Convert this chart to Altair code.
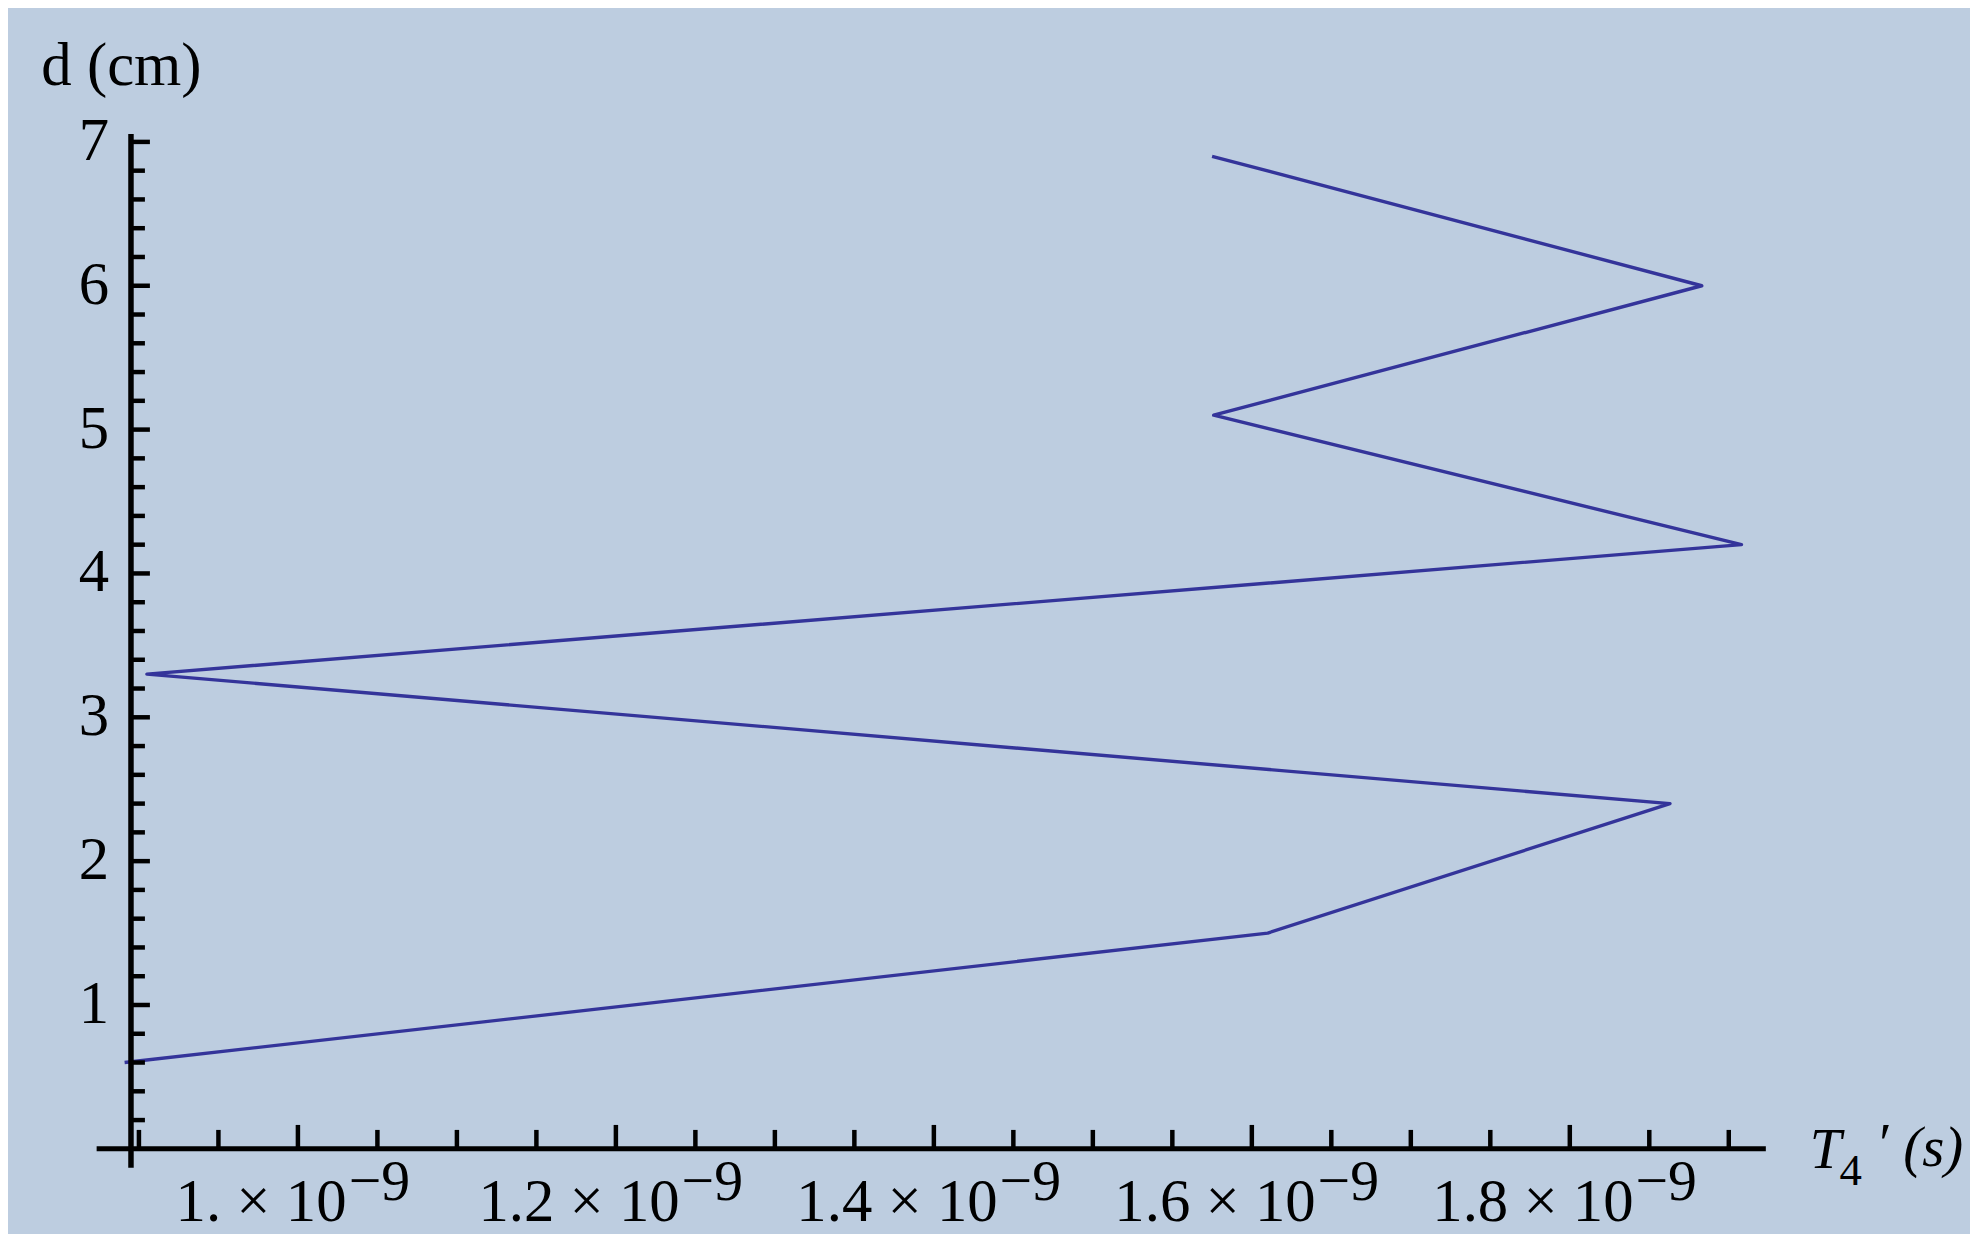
import altair as alt
import pandas as pd

# ---- data ----
d_cm = [0.6, 1.5, 2.4, 3.3, 4.2, 5.1, 6.0, 6.9]
t4_e9 = [0.891, 1.610, 1.863, 0.905, 1.908, 1.576, 1.883, 1.575]   # x 10^-9 s

x_major_vals = [1.0, 1.2, 1.4, 1.6, 1.8]
x_major_text = ["1. × 10", "1.2 × 10", "1.4 × 10", "1.6 × 10", "1.8 × 10"]
x_exp_text = ["−9", "−9", "−9", "−9", "−9"]
x_minor_vals = [0.90, 0.95, 1.05, 1.10, 1.15, 1.25, 1.30, 1.35, 1.45, 1.50,
                1.55, 1.65, 1.70, 1.75, 1.85, 1.90]
y_major_vals = [1, 2, 3, 4, 5, 6, 7]
y_major_text = ["1", "2", "3", "4", "5", "6", "7"]
y_minor_vals = [0.2, 0.4, 0.6, 0.8, 1.2, 1.4, 1.6, 1.8, 2.2, 2.4, 2.6, 2.8,
                3.2, 3.4, 3.6, 3.8, 4.2, 4.4, 4.6, 4.8, 5.2, 5.4, 5.6, 5.8,
                6.2, 6.4, 6.6, 6.8]
y_title = ["d (cm)"]

# plot range and axes origin
X_MIN, X_MAX, X_ORIGIN = 0.8734, 1.9233, 0.895
Y_MIN, Y_MAX, Y_ORIGIN = -0.1316, 7.055, 0.0

W, H = 1676, 1038
FONT = "Liberation Serif"
INK = "#000000"
BG = "#bdcde0"
LINE = "#34349a"

xs = alt.Scale(domain=[X_MIN, X_MAX], nice=False, zero=False)
ys = alt.Scale(domain=[Y_MIN, Y_MAX], nice=False, zero=False)


def xd(v):
    return alt.XDatum(v, scale=xs, axis=None)


def yd(v):
    return alt.YDatum(v, scale=ys, axis=None)


line = alt.Chart(pd.DataFrame({"t": t4_e9, "d": d_cm})).mark_line(
    color=LINE, strokeWidth=3.4, strokeJoin="round"
).encode(
    x=alt.X("t:Q", scale=xs, axis=None),
    y=alt.Y("d:Q", scale=ys, axis=None),
    order=alt.Order("d:Q"),
)

x_axis_line = alt.Chart(pd.DataFrame({"a": [X_MIN], "b": [X_MAX]})).mark_rule(
    color=INK, strokeWidth=5
).encode(x=alt.X("a:Q", scale=xs, axis=None), x2="b:Q", y=yd(Y_ORIGIN))

y_axis_line = alt.Chart(pd.DataFrame({"a": [Y_MIN], "b": [Y_MAX]})).mark_rule(
    color=INK, strokeWidth=5.5
).encode(y=alt.Y("a:Q", scale=ys, axis=None), y2="b:Q", x=xd(X_ORIGIN))

x_major_ticks = alt.Chart(pd.DataFrame({"v": x_major_vals})).mark_tick(
    orient="vertical", size=24, thickness=4.5, yOffset=-12, color=INK, opacity=1
).encode(x=alt.X("v:Q", scale=xs, axis=None), y=yd(Y_ORIGIN))

x_minor_ticks = alt.Chart(pd.DataFrame({"v": x_minor_vals})).mark_tick(
    orient="vertical", size=19, thickness=4.5, yOffset=-9.5, color=INK, opacity=1
).encode(x=alt.X("v:Q", scale=xs, axis=None), y=yd(Y_ORIGIN))

y_major_ticks = alt.Chart(pd.DataFrame({"v": y_major_vals})).mark_tick(
    orient="horizontal", size=19, thickness=4.5, xOffset=9.5, color=INK, opacity=1
).encode(y=alt.Y("v:Q", scale=ys, axis=None), x=xd(X_ORIGIN))

y_minor_ticks = alt.Chart(pd.DataFrame({"v": y_minor_vals})).mark_tick(
    orient="horizontal", size=14, thickness=4.5, xOffset=7, color=INK, opacity=1
).encode(y=alt.Y("v:Q", scale=ys, axis=None), x=xd(X_ORIGIN))

y_labels = alt.Chart(pd.DataFrame({"v": y_major_vals, "s": y_major_text})).mark_text(
    align="right", baseline="alphabetic", dx=-22, dy=18,
    font=FONT, fontSize=61, color=INK
).encode(y=alt.Y("v:Q", scale=ys, axis=None), x=xd(X_ORIGIN), text="s:N")

xlab_df = pd.DataFrame({"v": x_major_vals, "s": x_major_text, "e": x_exp_text})

x_labels = alt.Chart(xlab_df).mark_text(
    align="center", baseline="alphabetic", dx=-37, dy=72,
    font=FONT, fontSize=61, color=INK
).encode(x=alt.X("v:Q", scale=xs, axis=None), y=yd(Y_ORIGIN), text="s:N")

x_exp_first = alt.Chart(xlab_df).transform_filter("datum.v < 1.1").mark_text(
    align="left", baseline="alphabetic", dx=51, dy=51,
    font=FONT, fontSize=58, color=INK
).encode(x=alt.X("v:Q", scale=xs, axis=None), y=yd(Y_ORIGIN), text="e:N")

x_exp_rest = alt.Chart(xlab_df).transform_filter("datum.v > 1.1").mark_text(
    align="left", baseline="alphabetic", dx=66, dy=51,
    font=FONT, fontSize=58, color=INK
).encode(x=alt.X("v:Q", scale=xs, axis=None), y=yd(Y_ORIGIN), text="e:N")

y_title_mark = alt.Chart(pd.DataFrame({"s": y_title})).mark_text(
    align="left", baseline="alphabetic", dx=-90, dy=-49,
    font=FONT, fontSize=61, color=INK
).encode(x=xd(X_ORIGIN), y=yd(Y_MAX), text="s:N")


def xt_part(txt, dx, dy, size, style):
    return alt.Chart(pd.DataFrame({"s": [txt]})).mark_text(
        align="left", baseline="alphabetic", dx=dx, dy=dy,
        font=FONT, fontSize=size, fontStyle=style, color=INK
    ).encode(x=xd(X_MAX), y=yd(Y_ORIGIN), text="s:N")


x_title_T = xt_part("T", 44, 19, 57, "italic")
x_title_4 = xt_part("4", 74, 36, 45, "normal")
x_title_p = xt_part("′", 114, 14, 57, "normal")
x_title_s = xt_part("(s)", 138, 17, 57, "italic")

chart = alt.layer(
    line, x_axis_line, y_axis_line,
    x_major_ticks, x_minor_ticks, y_major_ticks, y_minor_ticks,
    y_labels, x_labels, x_exp_first, x_exp_rest,
    y_title_mark, x_title_T, x_title_4, x_title_p, x_title_s,
).properties(
    width=W, height=H, background=BG,
    padding={"left": 89, "top": 124, "right": 205, "bottom": 64},
    autosize=alt.AutoSizeParams(type="none"),
).configure_view(stroke=None)

chart.save("out.html", embed_options={"renderer": "svg", "actions": False})
